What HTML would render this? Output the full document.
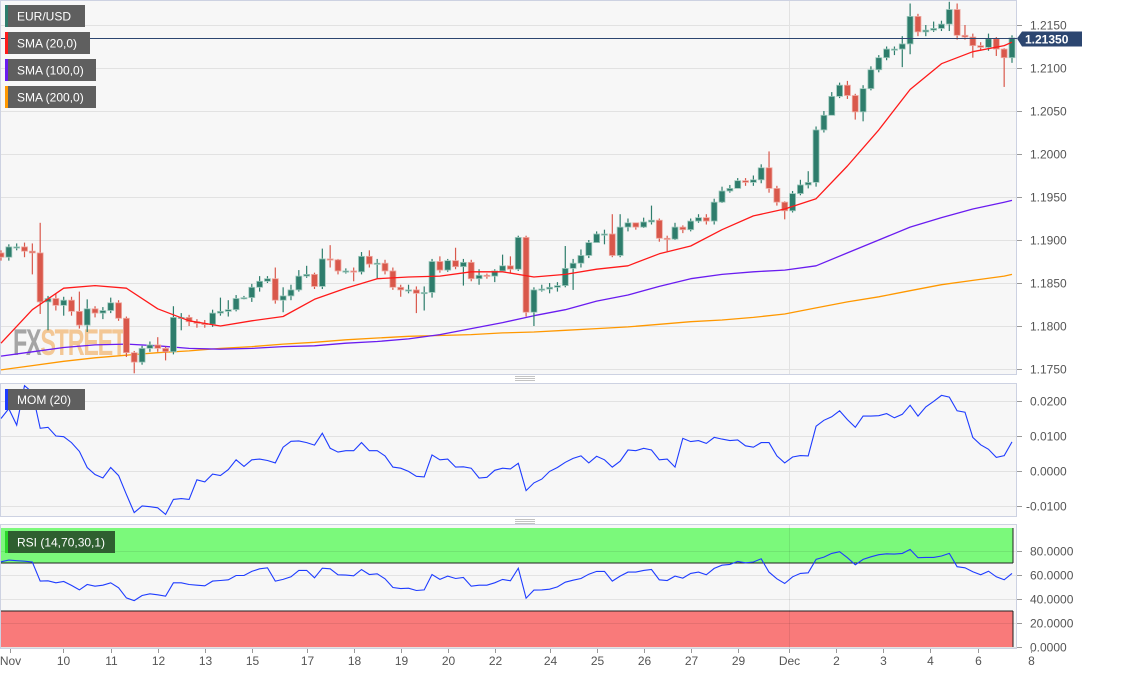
<!DOCTYPE html>
<html><head><meta charset="utf-8"><style>
html,body{margin:0;padding:0;background:#fff;width:1122px;height:674px;overflow:hidden;font-family:"Liberation Sans",sans-serif}
svg text{font-family:"Liberation Sans",sans-serif}
</style></head><body>
<svg id="chart" width="1122" height="674" viewBox="0 0 1122 674" xmlns="http://www.w3.org/2000/svg"></svg>
<script>
// ---- data ----
const closes=[1.1880,1.1892,1.1892,1.1887,1.1885,1.1828,1.1832,1.1824,1.1830,1.1817,1.1801,1.1820,1.1815,1.1818,1.1827,1.1809,1.1769,1.1758,1.1774,1.1778,1.1774,1.1770,1.1810,1.1810,1.1805,1.1803,1.1802,1.1815,1.1817,1.1819,1.1832,1.1833,1.1845,1.1852,1.1855,1.1830,1.1835,1.1842,1.1858,1.1860,1.1846,1.1878,1.1877,1.1864,1.1864,1.1863,1.1881,1.1872,1.1873,1.1864,1.1845,1.1842,1.1842,1.1838,1.1839,1.1875,1.1865,1.1876,1.1869,1.1874,1.1855,1.1859,1.1858,1.1864,1.1870,1.1866,1.1903,1.1816,1.1842,1.1843,1.1845,1.1847,1.1867,1.1873,1.1882,1.1897,1.1907,1.1907,1.1882,1.1915,1.1920,1.1915,1.1921,1.1923,1.1902,1.1901,1.1915,1.1912,1.1922,1.1926,1.1922,1.1944,1.1957,1.1960,1.1969,1.1967,1.1970,1.1984,1.1960,1.1944,1.1934,1.1954,1.1964,1.1967,1.2028,1.2045,1.2067,1.2080,1.2068,1.2049,1.2076,1.2098,1.2112,1.2122,1.2122,1.2128,1.2160,1.2142,1.2144,1.2146,1.2151,1.2168,1.2138,1.2136,1.2126,1.2124,1.2134,1.2122,1.2112,1.2135];
const firstOpen=1.1885;
const highs=[1.1888,1.1895,1.1896,1.1897,1.1896,1.1920,1.1835,1.1838,1.1834,1.1834,1.1840,1.1831,1.1823,1.1822,1.1833,1.1830,1.1811,1.1771,1.1777,1.1782,1.1787,1.1776,1.1823,1.1815,1.1813,1.1808,1.1807,1.1819,1.1833,1.1830,1.1836,1.1835,1.1849,1.1858,1.1858,1.1868,1.1845,1.1848,1.1865,1.1870,1.1862,1.1890,1.1894,1.1878,1.1867,1.1868,1.1886,1.1888,1.1878,1.1877,1.1868,1.1848,1.1848,1.1846,1.1846,1.1878,1.1881,1.1878,1.1891,1.1878,1.1877,1.1866,1.1861,1.1866,1.1883,1.1881,1.1905,1.1905,1.1845,1.1848,1.1850,1.1851,1.1893,1.1878,1.1889,1.1900,1.1910,1.1912,1.1930,1.1930,1.1925,1.1920,1.1926,1.1940,1.1925,1.1905,1.1920,1.1917,1.1925,1.1930,1.1930,1.1948,1.1962,1.1964,1.1972,1.1972,1.1975,1.1988,1.2003,1.1963,1.1945,1.1957,1.1970,1.1980,1.2032,1.2050,1.2072,1.2083,1.2085,1.2070,1.2080,1.2102,1.2115,1.2125,1.2125,1.2137,1.2175,1.2163,1.2150,1.2154,1.2155,1.2177,1.2175,1.2150,1.2140,1.2130,1.2140,1.2136,1.2123,1.2138];
const lows=[1.1876,1.1876,1.1888,1.1880,1.1860,1.1814,1.1795,1.1818,1.1812,1.1812,1.1797,1.1793,1.1810,1.1808,1.1815,1.1806,1.1764,1.1745,1.1755,1.1770,1.1770,1.1760,1.1767,1.1795,1.1800,1.1798,1.1798,1.1799,1.1812,1.1811,1.1817,1.1831,1.1828,1.1840,1.1850,1.1826,1.1816,1.1830,1.1840,1.1856,1.1843,1.1843,1.1868,1.1860,1.1861,1.1852,1.1860,1.1868,1.1855,1.1860,1.1842,1.1834,1.1838,1.1815,1.1818,1.1833,1.1862,1.1863,1.1866,1.1847,1.1852,1.1848,1.1855,1.1851,1.1866,1.1862,1.1864,1.1811,1.1800,1.1840,1.1838,1.1840,1.1845,1.1842,1.1868,1.1879,1.1899,1.1895,1.1880,1.1880,1.1910,1.1912,1.1914,1.1918,1.1898,1.1887,1.1900,1.1908,1.1910,1.1920,1.1918,1.1918,1.1943,1.1955,1.1960,1.1963,1.1963,1.1966,1.1955,1.1940,1.1924,1.1932,1.1952,1.1960,1.1962,1.2025,1.2045,1.2065,1.2064,1.2040,1.2038,1.2074,1.2095,1.2109,1.2115,1.2101,1.2116,1.2137,1.2137,1.2142,1.2143,1.2143,1.2133,1.2133,1.2112,1.2120,1.2120,1.2114,1.2078,1.2106];
const sma20=[1.1780,1.1819,1.1844,1.1847,1.1844,1.1820,1.1806,1.1800,1.1806,1.1811,1.1831,1.1844,1.1855,1.1857,1.1858,1.1863,1.1863,1.1857,1.1860,1.1866,1.1870,1.1884,1.1893,1.1912,1.1928,1.1936,1.1948,1.1986,1.2028,1.2075,1.2105,1.2119,1.2126,1.2130];
const sma100=[1.1765,1.1770,1.1775,1.1778,1.1779,1.1777,1.1774,1.1773,1.1774,1.1776,1.1777,1.1780,1.1782,1.1785,1.1790,1.1797,1.1804,1.1812,1.1819,1.1829,1.1836,1.1846,1.1855,1.1860,1.1863,1.1865,1.1870,1.1885,1.1900,1.1915,1.1926,1.1936,1.1944,1.1946];
const sma200=[1.1749,1.1754,1.1759,1.1763,1.1766,1.1769,1.1771,1.1774,1.1776,1.1779,1.1781,1.1784,1.1786,1.1788,1.1789,1.1790,1.1792,1.1793,1.1795,1.1797,1.1799,1.1802,1.1805,1.1807,1.1810,1.1814,1.1821,1.1828,1.1834,1.1841,1.1848,1.1853,1.1858,1.1860];
const mom=[0.0150,0.0178,0.0131,0.0244,0.0225,0.0122,0.0125,0.0100,0.0098,0.0081,0.0056,0.0010,-0.0010,-0.0020,0.0010,-0.0013,-0.0067,-0.0119,-0.0100,-0.0102,-0.0105,-0.0124,-0.0081,-0.0079,-0.0081,-0.0025,-0.0031,-0.0009,-0.0013,0.0004,0.0032,0.0013,0.0032,0.0034,0.0030,0.0023,0.0068,0.0085,0.0086,0.0081,0.0074,0.0108,0.0065,0.0054,0.0058,0.0058,0.0081,0.0058,0.0058,0.0043,0.0011,0.0008,-0.0001,-0.0015,-0.0017,0.0046,0.0032,0.0034,0.0011,0.0012,0.0008,-0.0020,-0.0018,0.0002,0.0008,0.0006,0.0022,-0.0056,-0.0034,-0.0023,-0.0001,0.0010,0.0025,0.0036,0.0043,0.0023,0.0042,0.0032,0.0011,0.0028,0.0060,0.0058,0.0065,0.0060,0.0032,0.0034,0.0011,0.0093,0.0084,0.0087,0.0079,0.0096,0.0091,0.0087,0.0089,0.0072,0.0068,0.0081,0.0081,0.0043,0.0023,0.0040,0.0044,0.0043,0.0128,0.0145,0.0155,0.0172,0.0147,0.0125,0.0157,0.0157,0.0158,0.0164,0.0152,0.0162,0.0188,0.0157,0.0183,0.0199,0.0216,0.0211,0.0172,0.0168,0.0096,0.0075,0.0062,0.0039,0.0044,0.0083];
const rsi=[71.0,72.4,71.9,71.5,70.8,54.9,55.2,53.5,54.6,51.3,47.6,52.1,50.7,51.5,53.5,49.3,40.9,38.7,42.9,44.3,43.5,42.3,53.5,53.5,52.1,51.5,51.0,54.9,55.4,56.0,59.6,59.6,63.0,65.2,66.0,54.9,56.3,58.5,63.8,63.8,57.7,65.7,65.2,60.2,59.9,59.3,64.6,60.4,61.0,56.8,49.6,48.7,49.0,47.1,47.6,60.4,56.3,59.1,57.1,57.9,50.7,51.5,51.5,53.5,56.3,55.2,65.7,40.7,47.4,47.6,48.2,50.1,54.0,55.7,57.1,60.7,63.0,63.0,54.9,59.1,62.4,62.4,63.8,64.6,56.0,55.4,59.1,57.4,61.3,62.4,60.2,65.5,68.2,68.8,71.3,70.2,70.8,73.5,62.4,56.8,52.9,58.5,61.3,61.8,73.0,74.9,78.0,79.4,74.4,68.5,73.0,75.2,76.9,77.7,77.4,78.0,81.3,74.4,74.7,74.7,75.8,78.0,66.9,66.0,62.7,60.2,63.2,58.5,56.0,61.3];
const priceTicks=[1.2150,1.2100,1.2050,1.2000,1.1950,1.1900,1.1850,1.1800,1.1750];
const momTicks=[0.02,0.01,0,-0.01];
const rsiTicks=[80,60,40,20,0];
const dateLabels=["Nov","10","11","12","13","15","17","18","19","20","22","24","25","26","27","29","Dec","2","3","4","6","8"];
const dateIdx=[1.15,7.9,14,20,26,32,39,45,51,57,63,70,76,82,88,94,100.6,106.6,112.6,118.6,124.6,131.4];
const lastPrice=1.2135;

// ---- axes ----
const NS="http://www.w3.org/2000/svg";
const svg=document.getElementById('chart');
const X0=1,X1=1012;
const xI=i=>X0+i*(X1-X0)/(closes.length-1);
const xF=(i,n)=>X0+i*(X1-X0)/(n-1);
const yP=p=>25+(1.2150-p)*8600;
const yM=v=>471-v*3500;
const yR=v=>647-v*1.2;
function el(tag,attrs,parent){const e=document.createElementNS(NS,tag);for(const k in attrs)e.setAttribute(k,attrs[k]);(parent||svg).appendChild(e);return e;}

// panels
const pMain=el('rect',{x:0.5,y:0.5,width:1016,height:374,fill:'#f7f7f7',stroke:'#cdd2e2'});


const pMom=el('rect',{x:0.5,y:383.5,width:1016,height:133,fill:'#f7f7f7',stroke:'#cdd2e2'});


const pRsi=el('rect',{x:0.5,y:524.5,width:1016,height:124,fill:'#f7f7f7',stroke:'#cdd2e2'});



// grid + ticks
priceTicks.forEach(t=>{const y=Math.round(yP(t))+0.5;
 el('line',{x1:1,x2:1016,y1:y,y2:y,stroke:'#e2e2e2'});
 el('line',{x1:1017,x2:1022,y1:y,y2:y,stroke:'#999'});
 const tx=el('text',{x:1030,y:y+4,'font-size':12,fill:'#555'});tx.textContent=t.toFixed(4);
 
 });
momTicks.forEach(t=>{const y=Math.round(yM(t))+0.5;
 el('line',{x1:1,x2:1016,y1:y,y2:y,stroke:'#e2e2e2'});
 el('line',{x1:1017,x2:1022,y1:y,y2:y,stroke:'#999'});
 const tx=el('text',{x:t<0?1026:1030,y:y+4,'font-size':12,fill:'#555'});tx.textContent=t.toFixed(4);
 
 });
// RSI zones
const gz=el('rect',{x:1,y:528,width:1012,height:yR(70)-528,fill:'#7bf97b'});


const rz=el('rect',{x:1,y:yR(30),width:1012,height:647-yR(30),fill:'#f97a7a'});


el('line',{x1:1,x2:1013,y1:yR(70),y2:yR(70),stroke:'#222','stroke-width':1});
el('line',{x1:1,x2:1013,y1:yR(30),y2:yR(30),stroke:'#222','stroke-width':1});
el('line',{x1:1013,x2:1013,y1:528,y2:yR(70),stroke:'#222'});
el('line',{x1:1013,x2:1013,y1:yR(30),y2:647,stroke:'#222'});
rsiTicks.forEach(t=>{const y=Math.round(yR(t))+0.5;
 el('line',{x1:1,x2:1016,y1:y,y2:y,stroke:'rgba(0,0,0,0.08)'});
 el('line',{x1:1017,x2:1022,y1:y,y2:y,stroke:'#999'});
 const tx=el('text',{x:1030,y:y+4,'font-size':12,fill:'#555'});tx.textContent=t.toFixed(4);
 
 });
// Dec vertical line + date labels
dateLabels.forEach((d,k)=>{const x=Math.round(xI(dateIdx[k]))+0.5;
 if(d==='Dec'){el('line',{x1:x,x2:x,y1:1,y2:374,stroke:'#e2e2e2'});el('line',{x1:x,x2:x,y1:384,y2:516,stroke:'#e2e2e2'});el('line',{x1:x,x2:x,y1:525,y2:648,stroke:'rgba(0,0,0,0.08)'});}
 el('line',{x1:x,x2:x,y1:649,y2:653,stroke:'#999'});
 const tx=el('text',{x:x,y:665,'font-size':12,fill:'#555','text-anchor':'middle'});tx.textContent=d;
 
 });

// watermark
const wm=el('text',{x:13,y:355,'font-size':37,'font-weight':'bold','letter-spacing':'-2','textLength':112,'lengthAdjust':'spacingAndGlyphs'});


const t1=el('tspan',{fill:'rgba(110,110,110,0.6)'},wm);t1.textContent='FX';
const t2=el('tspan',{fill:'rgba(240,160,70,0.55)'},wm);t2.textContent='STREET';

// SMA lines
function smaLine(arr,color,name){let d='';
 arr.forEach((v,k)=>{const i=Math.min(k*4,closes.length-1);d+=(k?'L':'M')+xI(i).toFixed(1)+','+yP(v).toFixed(1);});
 const p=el('path',{d:d,fill:'none',stroke:color,'stroke-width':1.3,'stroke-linejoin':'round'});
 
 }
smaLine(sma200,'#ff9800','sma-200-line');
smaLine(sma100,'#6a1cf0','sma-100-line');

// candles
closes.forEach((c,i)=>{const o=i?closes[i-1]:firstOpen;const up=c>=o;const x=xI(i);
 const col=up?'#2e7d6c':'#d9584b';
 const g=el('g',{});
 
 
 el('line',{x1:x,x2:x,y1:yP(highs[i]),y2:yP(lows[i]),stroke:col,'stroke-width':1.2},g);
 const top=yP(Math.max(o,c)),bot=yP(Math.min(o,c));
 el('rect',{x:x-3,y:top,width:6,height:Math.max(1.2,bot-top),fill:col,stroke:up?'#9fc9bd':'#efaaa2','stroke-width':0.8},g);});
smaLine(sma20,'#ff1a1a','sma-20-line');

// last price line + label
const ly=Math.round(yP(lastPrice))+0.5;
const lpl=el('line',{x1:1,x2:1017,y1:ly,y2:ly,stroke:'#2c4670','stroke-width':1});


const lb=el('path',{d:`M1017,${ly} L1022,${ly-7} L1082,${ly-7} L1082,${ly+8} L1022,${ly+8} Z`,fill:'#2c4670'});


const lt=el('text',{x:1025,y:ly+5,'font-size':12,'font-weight':'bold',fill:'#fff'});lt.textContent='1.21350';



// MOM line
let dm='';mom.forEach((v,i)=>{dm+=(i?'L':'M')+xF(i,mom.length).toFixed(1)+','+yM(v).toFixed(1);});
const ml=el('path',{d:dm,fill:'none',stroke:'#1e3cff','stroke-width':1.1});


// RSI line
let dr='';rsi.forEach((v,i)=>{dr+=(i?'L':'M')+xF(i,rsi.length).toFixed(1)+','+yR(v).toFixed(1);});
const rl=el('path',{d:dr,fill:'none',stroke:'#1e3cff','stroke-width':1.1});



// drag handles
[378,521].forEach(y=>{const g=el('g',{});
 
 
 [0,2,4].forEach(d=>el('line',{x1:515,x2:535,y1:y-2+d+0.5,y2:y-2+d+0.5,stroke:'#888','stroke-width':0.6},g));});

// legend boxes
function legend(x,y,w,h,stripe,label,name,bg){const g=el('g',{});
 
 
 el('rect',{x:x,y:y,width:w,height:h,fill:bg||'#5f5f5f'},g);
 el('rect',{x:x,y:y,width:3,height:h,fill:stripe},g);
 const t=el('text',{x:x+12,y:y+h/2+4.5,'font-size':12,fill:'#fff'},g);t.textContent=label;}
legend(5,5,80,22,'#2e7d6c','EUR/USD','legend-eurusd');
legend(5,32,85,22,'#ff1a1a','SMA (20,0)','legend-sma-20');
legend(5,59,91,22,'#6a1cf0','SMA (100,0)','legend-sma-100');
legend(5,86,91,22,'#ff9800','SMA (200,0)','legend-sma-200');
legend(5,389,80,21,'#1e3cff','MOM (20)','legend-mom');
legend(5,531,110,22,'#2bd62b','RSI (14,70,30,1)','legend-rsi','#2f5f30');
</script>
</body></html>
